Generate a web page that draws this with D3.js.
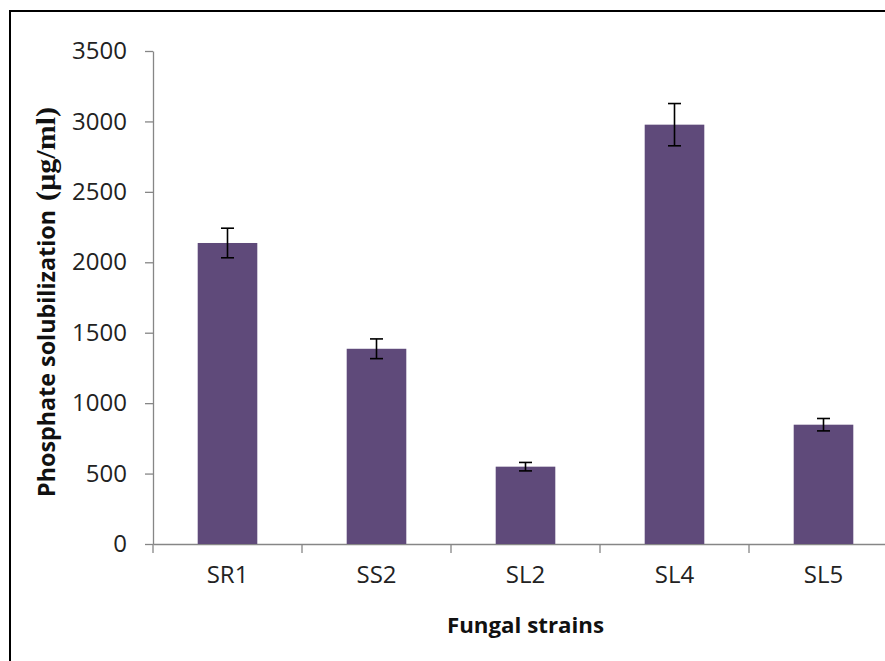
<!DOCTYPE html>
<html>
<head>
<meta charset="utf-8">
<script src="https://cdn.jsdelivr.net/npm/d3@7"></script>
<style>
  html, body { margin: 0; padding: 0; background: #fff; }
  svg { display: block; }
</style>
</head>
<body>
<svg id="chart" width="885" height="661"></svg>
<script>
const categories = ["SR1", "SS2", "SL2", "SL4", "SL5"];
const values = [2137, 1386, 549, 2977, 847];
const errors = [105, 70, 30, 150, 44];
const yTicks = [0, 500, 1000, 1500, 2000, 2500, 3000, 3500];
const xTitle = "Fungal strains";
const yTitleMain = "Phosphate solubilization";
const yTitleUnit = "(µg/ml)";

(function () {
const svg = d3.select("#chart");
const W = 885, H = 661;
svg.append("rect").attr("width", W).attr("height", H).attr("fill", "#fff");

// outer frame (extends beyond right/bottom like the reference)
svg.append("rect")
  .attr("x", 10).attr("y", 11).attr("width", 900).attr("height", 700)
  .attr("fill", "none").attr("stroke", "#000").attr("stroke-width", 2);

const mLeft = 153, mRight = 898, mTop = 51, mBottom = 544;

const x = d3.scaleBand().domain(categories).range([mLeft, mRight]).padding(0);
const y = d3.scaleLinear().domain([0, 3500]).range([mBottom, mTop]);

const axisColor = "#868686";
const tickFont = "'Open Sans', sans-serif";

// Y axis
const yAxis = svg.append("g").attr("transform", `translate(${mLeft},0)`)
  .call(d3.axisLeft(y).tickValues(yTicks).tickSize(8).tickSizeOuter(0).tickPadding(18).tickFormat(d3.format("d")));
yAxis.select(".domain").attr("stroke", axisColor).attr("stroke-width", 1.3);
yAxis.selectAll(".tick line").attr("stroke", axisColor).attr("stroke-width", 1.3);
yAxis.selectAll(".tick text").attr("fill", "#222").attr("font-family", tickFont).attr("font-size", 24);

// X axis
const xAxis = svg.append("g").attr("transform", `translate(0,${mBottom})`)
  .call(d3.axisBottom(x).tickSize(0).tickSizeOuter(0).tickPadding(22));
xAxis.select(".domain").attr("stroke", axisColor).attr("stroke-width", 1.3);
xAxis.selectAll(".tick text").attr("fill", "#222").attr("font-family", tickFont).attr("font-size", 24);
// x boundary tick marks
const bounds = categories.map(c => x(c)).concat([x(categories[categories.length - 1]) + x.bandwidth()]);
svg.append("g").selectAll("line").data(bounds).join("line")
  .attr("x1", d => d).attr("x2", d => d)
  .attr("y1", mBottom).attr("y2", mBottom + 9)
  .attr("stroke", axisColor).attr("stroke-width", 1.3);

// Bars
const barW = x.bandwidth() * 0.4;
const data = categories.map((c, i) => ({ c, v: values[i], e: errors[i] }));
svg.append("g").selectAll("rect").data(data).join("rect")
  .attr("x", d => x(d.c) + x.bandwidth() / 2 - barW / 2)
  .attr("y", d => y(d.v))
  .attr("width", barW)
  .attr("height", d => y(0) - y(d.v))
  .attr("fill", "#5f4a7a");

// Error bars
const eb = svg.append("g").attr("stroke", "#000").attr("stroke-width", 1.6);
data.forEach(d => {
  const cx = x(d.c) + x.bandwidth() / 2;
  eb.append("line").attr("x1", cx).attr("x2", cx).attr("y1", y(d.v + d.e)).attr("y2", y(d.v - d.e));
  eb.append("line").attr("x1", cx - 6.5).attr("x2", cx + 6.5).attr("y1", y(d.v + d.e)).attr("y2", y(d.v + d.e));
  eb.append("line").attr("x1", cx - 6.5).attr("x2", cx + 6.5).attr("y1", y(d.v - d.e)).attr("y2", y(d.v - d.e));
});

// X title
svg.append("text")
  .attr("x", (mLeft + mRight) / 2).attr("y", 633)
  .attr("text-anchor", "middle")
  .attr("font-family", tickFont).attr("font-weight", "bold").attr("font-size", 22)
  .attr("fill", "#111")
  .attr("textLength", 157).attr("lengthAdjust", "spacingAndGlyphs")
  .text(xTitle);

// Y title (two parts: sans main text, serif unit)
svg.append("text")
  .attr("transform", "translate(55,497) rotate(-90)")
  .attr("text-anchor", "start")
  .attr("fill", "#111").attr("font-weight", "bold")
  .attr("font-family", tickFont).attr("font-size", 23)
  .attr("textLength", 287).attr("lengthAdjust", "spacingAndGlyphs")
  .text(yTitleMain);
svg.append("text")
  .attr("transform", "translate(55,107) rotate(-90)")
  .attr("text-anchor", "end")
  .attr("fill", "#111").attr("font-weight", "bold")
  .attr("font-family", "'Liberation Serif', serif").attr("font-size", 27)
  .attr("textLength", 94).attr("lengthAdjust", "spacingAndGlyphs")
  .text(yTitleUnit);
})();
</script>
</body>
</html>
